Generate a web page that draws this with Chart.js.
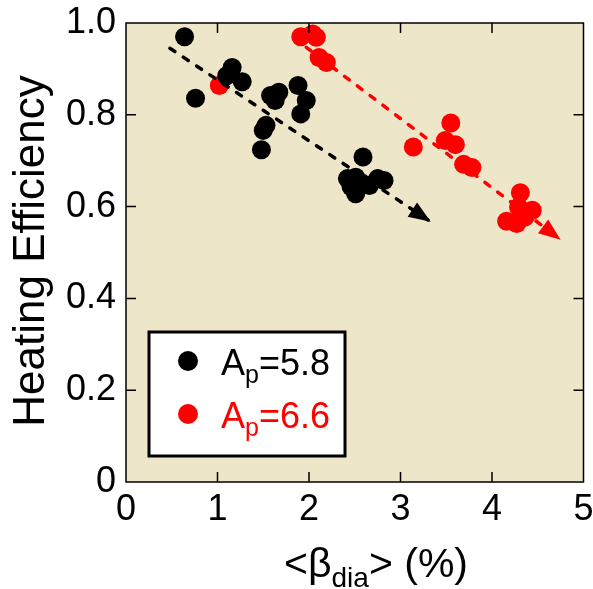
<!DOCTYPE html>
<html>
<head>
<meta charset="utf-8">
<script src="https://cdn.jsdelivr.net/npm/chart.js@4"></script>
<style>
  html, body { margin: 0; padding: 0; background: #fff; }
  canvas { display: block; }
</style>
</head>
<body>
<canvas id="effChart" width="593" height="589"></canvas>
<script>
/* =================================================================
   Heating efficiency vs <beta_dia> — two A_p scans with trend arrows
================================================================= */

// ── Data ──────────────────────────────────────────

const blackX = [0.64, 0.76, 1.10, 1.16, 1.27, 1.48, 1.50, 1.53, 1.58, 1.63, 1.67, 1.88, 1.91, 1.97,
                2.42, 2.46, 2.51, 2.51, 2.58, 2.59, 2.66, 2.75, 2.82];
const blackY = [0.970, 0.836, 0.885, 0.903, 0.872, 0.724, 0.766, 0.777, 0.842, 0.831, 0.849, 0.864, 0.802, 0.831,
                0.661, 0.643, 0.664, 0.628, 0.651, 0.708, 0.646, 0.661, 0.657];

const redX = [1.02, 1.91, 2.04, 2.08, 2.11, 2.19, 3.14, 3.49, 3.55, 3.60, 3.69, 3.78,
              4.16, 4.27, 4.29, 4.31, 4.36, 4.44];
const redY = [0.864, 0.970, 0.976, 0.969, 0.925, 0.914, 0.730, 0.744, 0.782, 0.735, 0.692, 0.685,
              0.568, 0.563, 0.599, 0.630, 0.577, 0.592];

// trend arrows (start, tip)
const blackArrowX = [0.48, 3.33];
const blackArrowY = [0.945, 0.567];
const redArrowX = [1.97, 4.75];
const redArrowY = [0.947, 0.528];

const xTicks = [0, 1, 2, 3, 4, 5];
const xTickLabels = ['0', '1', '2', '3', '4', '5'];
const yTicks = [0, 0.2, 0.4, 0.6, 0.8, 1.0];
const yTickLabels = ['0', '0.2', '0.4', '0.6', '0.8', '1.0'];

const seriesLabels = ['5.8', '6.6'];
const seriesColors = ['#000000', '#ff0000'];

const FONT = '"Liberation Sans", Arial, sans-serif';
const PLOT_BG = '#eee6c8';

const toPts = (xs, ys) => xs.map((x, i) => ({ x, y: ys[i] }));

// ── Plugins ──────────────────────────────────────

const framePlugin = {
  id: 'frame',
  beforeDraw(chart) {
    const { ctx, chartArea: a } = chart;
    ctx.save();
    ctx.fillStyle = '#fff';
    ctx.fillRect(0, 0, chart.width, chart.height);
    ctx.fillStyle = PLOT_BG;
    ctx.fillRect(a.left, a.top, a.right - a.left, a.bottom - a.top);
    ctx.restore();
  },
  afterDraw(chart) {
    const { ctx, chartArea: a, scales } = chart;
    ctx.save();
    ctx.strokeStyle = '#000';
    ctx.lineWidth = 1.5;
    ctx.strokeRect(a.left, a.top, a.right - a.left, a.bottom - a.top);

    // inward ticks on all four sides
    const tl = 10;
    ctx.beginPath();
    xTicks.slice(1, -1).forEach((v) => {
      const px = scales.x.getPixelForValue(v);
      ctx.moveTo(px, a.bottom); ctx.lineTo(px, a.bottom - tl);
      ctx.moveTo(px, a.top);    ctx.lineTo(px, a.top + tl);
    });
    yTicks.slice(1, -1).forEach((v) => {
      const py = scales.y.getPixelForValue(v);
      ctx.moveTo(a.left, py);  ctx.lineTo(a.left + tl, py);
      ctx.moveTo(a.right, py); ctx.lineTo(a.right - tl, py);
    });
    ctx.stroke();

    // y title
    ctx.fillStyle = '#000';
    ctx.font = `44px ${FONT}`;
    ctx.textAlign = 'center';
    ctx.textBaseline = 'middle';
    ctx.translate(32, 251);
    ctx.rotate(-Math.PI / 2);
    ctx.fillText('Heating Efficiency', 0, 0);
    ctx.restore();

    // x title: <β_dia> (%)
    ctx.save();
    ctx.fillStyle = '#000';
    ctx.textBaseline = 'alphabetic';
    ctx.textAlign = 'left';
    const big = `41px ${FONT}`, small = `28px ${FONT}`;
    const parts = [['<β', big, 0], ['dia', small, 10], ['> (%)', big, 0]];
    let w = 0;
    parts.forEach(([t, f]) => { ctx.font = f; w += ctx.measureText(t).width; });
    let x = 376 - w / 2;
    parts.forEach(([t, f, dy]) => {
      ctx.font = f;
      ctx.fillText(t, x, 577 + dy);
      x += ctx.measureText(t).width;
    });
    ctx.restore();

    // legend box
    ctx.save();
    ctx.fillStyle = '#fff';
    ctx.fillRect(149, 332, 196, 124);
    ctx.strokeStyle = '#000';
    ctx.lineWidth = 3;
    ctx.strokeRect(149, 332, 196, 124);
    const rows = [375, 428];
    seriesLabels.forEach((lab, i) => {
      const base = rows[i];
      ctx.fillStyle = seriesColors[i];
      ctx.beginPath();
      ctx.arc(188, base - 14, 10, 0, Math.PI * 2);
      ctx.fill();
      let lx = 221;
      ctx.font = `36px ${FONT}`;
      ctx.fillText('A', lx, base);
      lx += ctx.measureText('A').width;
      ctx.font = `25px ${FONT}`;
      ctx.fillText('p', lx, base + 8);
      lx += ctx.measureText('p').width;
      ctx.font = `36px ${FONT}`;
      ctx.fillText('=' + lab, lx, base);
    });
    ctx.restore();
  },
};

const arrowPlugin = {
  id: 'arrowheads',
  afterDatasetsDraw(chart) {
    const { ctx } = chart;
    chart.data.datasets.forEach((ds, i) => {
      if (!ds.arrow) return;
      const pts = chart.getDatasetMeta(i).data;
      const p0 = pts[pts.length - 2], p1 = pts[pts.length - 1];
      const ang = Math.atan2(p1.y - p0.y, p1.x - p0.x);
      const len = 22, half = 8.5;
      ctx.save();
      ctx.translate(p1.x, p1.y);
      ctx.rotate(ang);
      ctx.fillStyle = ds.borderColor;
      ctx.beginPath();
      ctx.moveTo(0, 0);
      ctx.lineTo(-len, -half);
      ctx.lineTo(-len, half);
      ctx.closePath();
      ctx.fill();
      ctx.restore();
    });
  },
};

// ── Chart ──────────────────────────────────────

const arrowLine = (xs, ys, color) => ({
  type: 'line',
  data: toPts(xs, ys),
  borderColor: color,
  borderWidth: 3.5,
  borderDash: [6, 10],
  borderCapStyle: 'round',
  pointRadius: 0,
  fill: false,
  arrow: true,
  order: 0,
});

const dots = (xs, ys, color) => ({
  type: 'scatter',
  data: toPts(xs, ys),
  backgroundColor: color,
  borderWidth: 0,
  pointRadius: 9.5,
  pointHoverRadius: 9.5,
  order: 1,
});

new Chart(document.getElementById('effChart'), {
  type: 'scatter',
  data: {
    datasets: [
      arrowLine(blackArrowX, blackArrowY, seriesColors[0]),
      arrowLine(redArrowX, redArrowY, seriesColors[1]),
      dots(blackX, blackY, seriesColors[0]),
      dots(redX, redY, seriesColors[1]),
    ],
  },
  options: {
    responsive: false,
    animation: false,
    layout: { padding: { left: 0, top: 23, right: 8, bottom: 0 } },
    plugins: { legend: { display: false }, tooltip: { enabled: false } },
    scales: {
      x: {
        type: 'linear', min: 0, max: 5,
        afterBuildTicks: (s) => { s.ticks = xTicks.map((v) => ({ value: v })); },
        afterFit: (s) => { s.height = 107; s.paddingLeft = 0; s.paddingRight = 0; },
        grid: { display: false, drawTicks: false },
        border: { display: false },
        ticks: {
          padding: 6, color: '#000', font: { family: FONT, size: 36 },
          callback: (v, i) => xTickLabels[i],
        },
      },
      y: {
        type: 'linear', min: 0, max: 1,
        afterBuildTicks: (s) => { s.ticks = yTicks.map((v) => ({ value: v })); },
        afterFit: (s) => { s.width = 126; s.paddingTop = 0; s.paddingBottom = 0; },
        grid: { display: false, drawTicks: false },
        border: { display: false },
        ticks: {
          padding: 10, color: '#000', font: { family: FONT, size: 36 },
          callback: (v, i) => yTickLabels[i],
        },
      },
    },
  },
  plugins: [framePlugin, arrowPlugin],
});
</script>
</body>
</html>
